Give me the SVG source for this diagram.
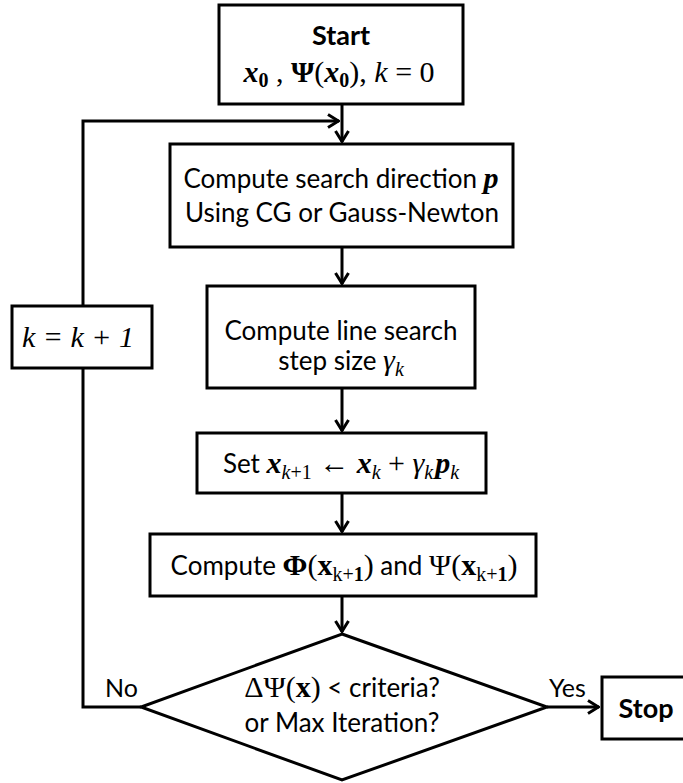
<svg xmlns="http://www.w3.org/2000/svg" width="683" height="783" viewBox="0 0 683 783">
  <style>
    .box { fill: #fff; stroke: #000; stroke-width: 3; }
    .wire { fill: none; stroke: #000; stroke-width: 3; }
    .t { font-family: Lato, "Liberation Sans", sans-serif; font-size: 26px; fill: #000; text-anchor: middle; }
    .tb { font-family: Lato, "Liberation Sans", sans-serif; font-size: 27px; font-weight: bold; fill: #000; text-anchor: middle; }
    .lab { font-family: Lato, "Liberation Sans", sans-serif; font-size: 25px; fill: #000; }
    .m { font-family: "Liberation Serif", "DejaVu Serif", serif; font-size: 30px; }
    .mi { font-family: "Liberation Serif", "DejaVu Serif", serif; font-size: 30px; font-style: italic; }
    .mbi { font-family: "Liberation Serif", "DejaVu Serif", serif; font-size: 30px; font-style: italic; font-weight: bold; }
    .mb { font-family: "Liberation Serif", "DejaVu Serif", serif; font-size: 30px; font-weight: bold; }
    .sub { font-size: 20px; }
  </style>
  <defs>
    <marker id="arrow" viewBox="0 0 13 16" refX="12" refY="8" markerWidth="13" markerHeight="16" markerUnits="userSpaceOnUse" orient="auto">
      <path d="M1,1.5 L11.5,8 L1,14.5" fill="none" stroke="#000" stroke-width="3"/>
    </marker>
  </defs>

  <!-- connectors -->
  <g id="connectors">
    <path class="wire" d="M342,104 V142" marker-end="url(#arrow)"/>
    <path class="wire" d="M141,707 H83 V121 H339" marker-end="url(#arrow)"/>
    <path class="wire" d="M342,247 V284" marker-end="url(#arrow)"/>
    <path class="wire" d="M342,388 V431" marker-end="url(#arrow)"/>
    <path class="wire" d="M342,493 V532" marker-end="url(#arrow)"/>
    <path class="wire" d="M342,596 V632" marker-end="url(#arrow)"/>
    <path class="wire" d="M547,707 H599" marker-end="url(#arrow)"/>
  </g>

  <!-- start -->
  <g id="start">
    <rect class="box" x="219" y="5" width="244" height="99"/>
    <text class="tb" x="341" y="45">Start</text>
    <text x="339" y="82" text-anchor="middle"><tspan class="mbi">x</tspan><tspan class="mb sub" dy="5">0</tspan><tspan class="m" dy="-5"> , </tspan><tspan class="mb">Ψ</tspan><tspan class="m">(</tspan><tspan class="mbi">x</tspan><tspan class="mb sub" dy="5">0</tspan><tspan class="m" dy="-5">), </tspan><tspan class="mi">k</tspan><tspan class="m"> = 0</tspan></text>
  </g>

  <!-- search direction -->
  <g id="direction">
    <rect class="box" x="170" y="144" width="343" height="103"/>
    <text class="t" x="341" y="188">Compute search direction <tspan class="mbi">p</tspan></text>
    <text class="t" x="342" y="222">Using CG or Gauss-Newton</text>
  </g>

  <!-- line search -->
  <g id="linesearch">
    <rect class="box" x="207" y="286" width="268" height="102"/>
    <text class="t" x="341" y="340">Compute line search</text>
    <text class="t" x="341" y="370">step size <tspan class="mi">γ</tspan><tspan class="mi sub" dy="6">k</tspan></text>
  </g>

  <!-- update -->
  <g id="update">
    <rect class="box" x="197" y="433" width="289" height="60"/>
    <text class="t" x="341" y="473">Set <tspan class="mbi">x</tspan><tspan class="mi sub" dy="6">k</tspan><tspan class="m sub">+1</tspan><tspan class="m" dy="-6"> ← </tspan><tspan class="mbi">x</tspan><tspan class="mi sub" dy="6">k</tspan><tspan class="m" dy="-6"> + </tspan><tspan class="mi">γ</tspan><tspan class="mi sub" dy="6">k</tspan><tspan class="mbi" dx="2" dy="-6">p</tspan><tspan class="mi sub" dy="6">k</tspan></text>
  </g>

  <!-- evaluate -->
  <g id="evaluate">
    <rect class="box" x="150" y="534" width="386" height="62"/>
    <text class="t" x="344" y="575">Compute <tspan class="mb">Φ</tspan><tspan class="m">(</tspan><tspan class="mb">x</tspan><tspan class="m sub" dy="6">k+</tspan><tspan class="mb sub">1</tspan><tspan class="m" dy="-6">)</tspan> and <tspan class="m">Ψ(</tspan><tspan class="mb">x</tspan><tspan class="m sub" dy="6">k+</tspan><tspan class="mb sub">1</tspan><tspan class="m" dy="-6">)</tspan></text>
  </g>

  <!-- decision -->
  <g id="decision">
    <polygon class="box" points="342,634 547,707 342,780 141,707"/>
    <text class="t" x="342" y="697"><tspan class="m">ΔΨ(</tspan><tspan class="mb">x</tspan><tspan class="m">)</tspan> &lt; criteria?</text>
    <text class="t" x="342" y="732">or Max Iteration?</text>
    <text class="lab" x="105" y="697">No</text>
    <text class="lab" x="549" y="697">Yes</text>
  </g>

  <!-- increment -->
  <g id="increment">
    <rect class="box" x="12" y="306" width="140" height="62"/>
    <text class="mi" x="78" y="347" text-anchor="middle">k <tspan class="m">=</tspan> k <tspan class="m">+ 1</tspan></text>
  </g>

  <!-- stop -->
  <g id="stop">
    <rect class="box" x="602" y="677" width="90" height="62"/>
    <text class="tb" x="646" y="718" font-size="26">Stop</text>
  </g>
</svg>
